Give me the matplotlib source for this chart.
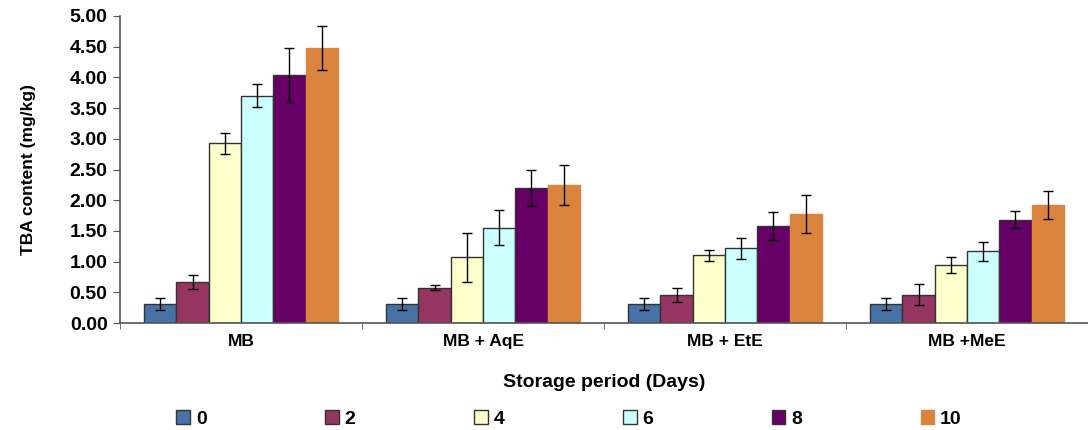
import matplotlib
matplotlib.use('Agg')
import matplotlib.pyplot as plt
import numpy as np

plt.rcParams['font.family'] = ['Liberation Sans', 'DejaVu Sans']
plt.rcParams['font.weight'] = 'bold'

groups = ['MB', 'MB + AqE', 'MB + EtE', 'MB +MeE']
days = ['0', '2', '4', '6', '8', '10']

# TBA means per storage day (rows) for each group (columns)
means = {
    '0':  [0.31, 0.31, 0.31, 0.31],
    '2':  [0.67, 0.575, 0.46, 0.46],
    '4':  [2.93, 1.07, 1.10, 0.94],
    '6':  [3.70, 1.55, 1.22, 1.17],
    '8':  [4.04, 2.20, 1.58, 1.68],
    '10': [4.48, 2.25, 1.77, 1.92],
}
errors = {
    '0':  [0.09, 0.09, 0.09, 0.09],
    '2':  [0.12, 0.04, 0.11, 0.17],
    '4':  [0.17, 0.40, 0.087, 0.13],
    '6':  [0.19, 0.285, 0.17, 0.155],
    '8':  [0.44, 0.29, 0.23, 0.14],
    '10': [0.36, 0.32, 0.31, 0.23],
}
colors = ['#4672a6', '#963462', '#ffffcc', '#ccffff', '#660066', '#da843e']
edges = ['#333333', '#333333', '#333333', '#333333', '#333333', '#da843e']

fig = plt.figure(figsize=(10.88, 4.30), dpi=100)
ax = fig.add_axes([0.1103, 0.2488, 0.8897, 0.714])

x = np.arange(len(groups))
w = 0.8 / len(days)
for i, d in enumerate(days):
    pos = x - 0.4 + w * (i + 0.5)
    ax.bar(pos, means[d], width=w, color=colors[i], edgecolor=edges[i],
           linewidth=1.0, label=d, zorder=2)
    ax.errorbar(pos, means[d], yerr=errors[d], fmt='none', ecolor='black',
                elinewidth=1.0, capsize=3.5, capthick=1.0, zorder=3)

ax.set_xlim(-0.5, 3.5)
ax.set_ylim(0, 5)
ax.set_yticks(np.arange(0, 5.01, 0.5))
ax.set_yticklabels(['%.2f' % v for v in np.arange(0, 5.01, 0.5)],
                   fontsize=14, fontweight='bold')
ax.set_xticks(x)
ax.set_xticklabels(groups, fontsize=12.5, fontweight='bold')
ax.set_xticks(np.arange(-0.5, 3.6, 1), minor=True)
ax.tick_params(axis='x', which='major', length=0, pad=8)
ax.tick_params(axis='x', which='minor', length=4, direction='out', color='#555555')
ax.tick_params(axis='y', length=5, direction='out', color='#555555', pad=4)

for s in ['top', 'right']:
    ax.spines[s].set_visible(False)
for s in ['left', 'bottom']:
    ax.spines[s].set_color('#555555')
    ax.spines[s].set_linewidth(1.2)

ax.set_ylabel('TBA content (mg/kg)', fontsize=12.5, fontweight='bold', labelpad=24)
ax.set_xlabel('Storage period (Days)', fontsize=14, fontweight='bold', labelpad=18)

fig.legend(loc='center left', bbox_to_anchor=(0.146, 0.025), ncol=6, frameon=False,
           handlelength=0.7, handleheight=0.7, handletextpad=0.3,
           columnspacing=6.1, prop={'weight': 'bold', 'size': 14})

fig.savefig('out.png', dpi=100)
